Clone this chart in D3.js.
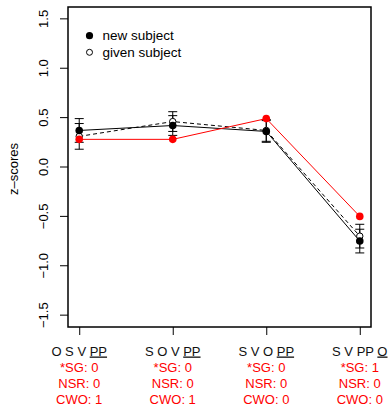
<!DOCTYPE html>
<html>
<head>
<meta charset="utf-8">
<script src="https://cdn.jsdelivr.net/npm/d3@7"></script>
<style>
  body { margin: 0; background: #fff; }
  svg { font-family: "Liberation Sans", Arial, sans-serif; }
</style>
</head>
<body>
<div id="chart"></div>
<script>
// word orders shown under each tick; the second part is underlined
const orders = [["O S V ", "PP"], ["S O V ", "PP"], ["S V O ", "PP"], ["S V PP ", "O"]];
const sgValues = [0, 0, 0, 1];
const nsrValues = [0, 0, 0, 0];
const cwoValues = [1, 1, 0, 0];

const newSubject = [0.37, 0.42, 0.36, -0.75];
const newErr = [0.12, 0.10, 0.11, 0.12];
const givenSubject = [0.31, 0.46, 0.37, -0.70];
const givenErr = [0.13, 0.10, 0.11, 0.12];
const redSeries = [0.28, 0.28, 0.49, -0.50];
const yTicks = [-1.5, -1.0, -0.5, 0.0, 0.5, 1.0, 1.5];

let width = 389,
    height = 406,
    margin = ({ top: 7, right: 18, bottom: 79, left: 68 });

const svg = d3.select("#chart")
  .append("svg")
  .attr("width", width)
  .attr("height", height);

let x = d3.scaleLinear()
  .domain([0.88, 4.12])
  .range([margin.left, width - margin.right]);

let y = d3.scaleLinear()
  .domain([-1.62, 1.62])
  .range([height - margin.bottom, margin.top]);

const idx = [0, 1, 2, 3];
const fmt = d => d3.format(".1f")(d).replace("-", "\u2212");

// y axis
const yAxis = svg.append("g")
  .attr("transform", `translate(${margin.left},0)`)
  .call(d3.axisLeft(y).tickValues(yTicks).tickSize(8).tickFormat(fmt));
yAxis.select(".domain").remove();
yAxis.selectAll("line").attr("stroke", "#000");
yAxis.selectAll(".tick").attr("transform", null);
yAxis.selectAll(".tick line").each(function(d) {
  d3.select(this).attr("y1", y(d)).attr("y2", y(d));
});
yAxis.selectAll("text")
  .attr("x", 0)
  .attr("y", 0)
  .attr("dy", null)
  .attr("text-anchor", "middle")
  .attr("dominant-baseline", "central")
  .attr("font-size", 13)
  .attr("fill", "#000")
  .attr("transform", d => `translate(-24.5,${y(d)}) rotate(-90)`);

// x axis ticks
const xAxis = svg.append("g")
  .attr("transform", `translate(0,${height - margin.bottom})`)
  .call(d3.axisBottom(x).tickValues([1, 2, 3, 4]).tickSize(8).tickFormat(""));
xAxis.select(".domain").remove();
xAxis.selectAll("line").attr("stroke", "#000");

// box
svg.append("rect")
  .attr("x", margin.left)
  .attr("y", margin.top)
  .attr("width", width - margin.left - margin.right)
  .attr("height", height - margin.top - margin.bottom)
  .attr("fill", "none")
  .attr("stroke", "#000")
  .attr("stroke-width", 1.5);

// y title
svg.append("text")
  .attr("transform", `translate(13,${(margin.top + height - margin.bottom) / 2 + 2}) rotate(-90)`)
  .attr("text-anchor", "middle")
  .attr("dominant-baseline", "central")
  .attr("font-size", 13)
  .text("z\u2013scores");

// x labels
const xl = svg.append("g");
idx.forEach(i => {
  const t = xl.append("text")
    .attr("x", x(i + 1))
    .attr("y", 355.5)
    .attr("text-anchor", "middle")
    .attr("font-size", 13)
    .attr("fill", "#111");
  t.append("tspan").text(orders[i][0]);
  t.append("tspan").style("text-decoration", "underline").text(orders[i][1]);
  const rows = [`*SG: ${sgValues[i]}`, `NSR: ${nsrValues[i]}`, `CWO: ${cwoValues[i]}`];
  rows.forEach((r, k) => {
    xl.append("text")
      .attr("x", x(i + 1))
      .attr("y", 372 + k * 16)
      .attr("text-anchor", "middle")
      .attr("font-size", 13)
      .attr("fill", "#ff0000")
      .text(r);
  });
});

const line = d3.line().x((d, i) => x(i + 1)).y(d => y(d));

// new subject line
svg.append("path")
  .attr("d", line(newSubject))
  .attr("fill", "none")
  .attr("stroke", "#000")
  .attr("stroke-width", 1);

// given subject line
svg.append("path")
  .attr("d", line(givenSubject))
  .attr("fill", "none")
  .attr("stroke", "#000")
  .attr("stroke-width", 1)
  .attr("stroke-dasharray", "4,3");

// error bars
function errBars(vals, errs) {
  const g = svg.append("g").attr("stroke", "#000").attr("stroke-width", 1);
  idx.forEach(i => {
    const cx = x(i + 1), lo = y(vals[i] - errs[i]), hi = y(vals[i] + errs[i]);
    g.append("line").attr("x1", cx).attr("x2", cx).attr("y1", lo).attr("y2", hi);
    g.append("line").attr("x1", cx - 4.5).attr("x2", cx + 4.5).attr("y1", lo).attr("y2", lo);
    g.append("line").attr("x1", cx - 4.5).attr("x2", cx + 4.5).attr("y1", hi).attr("y2", hi);
  });
}
errBars(givenSubject, givenErr);
errBars(newSubject, newErr);

// points
svg.append("g").selectAll("circle")
  .data(givenSubject)
  .join("circle")
  .attr("cx", (d, i) => x(i + 1))
  .attr("cy", d => y(d))
  .attr("r", 3.2)
  .attr("fill", "#fff")
  .attr("stroke", "#000")
  .attr("stroke-width", 1);

svg.append("g").selectAll("circle")
  .data(newSubject)
  .join("circle")
  .attr("cx", (d, i) => x(i + 1))
  .attr("cy", d => y(d))
  .attr("r", 3.8)
  .attr("fill", "#000");

// red series
svg.append("path")
  .attr("d", line(redSeries))
  .attr("fill", "none")
  .attr("stroke", "#ff0000")
  .attr("stroke-width", 1);
svg.append("g").selectAll("circle")
  .data(redSeries)
  .join("circle")
  .attr("cx", (d, i) => x(i + 1))
  .attr("cy", d => y(d))
  .attr("r", 3.8)
  .attr("fill", "#ff0000");

// legend
const leg = svg.append("g");
leg.append("circle").attr("cx", 89.5).attr("cy", 35.7).attr("r", 3.6).attr("fill", "#000");
leg.append("circle").attr("cx", 89.5).attr("cy", 52.3).attr("r", 3).attr("fill", "#fff").attr("stroke", "#000");
leg.append("text").attr("x", 102.5).attr("y", 35.7).attr("dominant-baseline", "central")
  .attr("font-size", 13.5).text("new subject");
leg.append("text").attr("x", 102.5).attr("y", 52.3).attr("dominant-baseline", "central")
  .attr("font-size", 13.5).text("given subject");
</script>
</body>
</html>
